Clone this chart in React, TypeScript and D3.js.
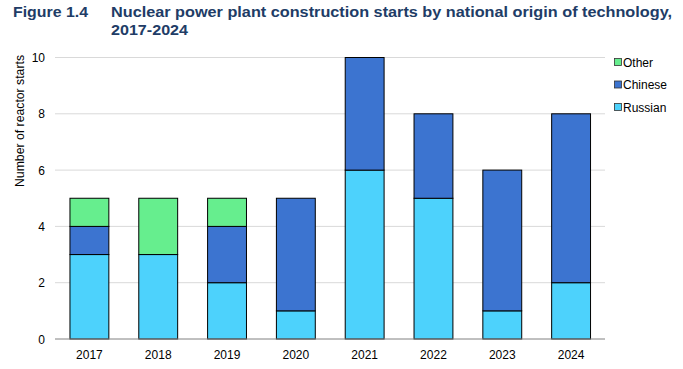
import React from "react";
import * as d3 from "d3";

const years = ["2017", "2018", "2019", "2020", "2021", "2022", "2023", "2024"];
const russian = [3, 3, 2, 1, 6, 5, 1, 2];
const chinese = [1, 0, 2, 4, 4, 3, 5, 6];
const other = [1, 2, 1, 0, 0, 0, 0, 0];
const seriesNames = ["Russian", "Chinese", "Other"];
const seriesColors = ["#4dd2fc", "#3c74d0", "#66ee8e"];
const yTicks = [0, 2, 4, 6, 8, 10];

export default function App() {
  const W = 683, H = 369;
  const x = d3.scaleBand().domain(years).range([55, 605.5]).paddingInner(0.435).paddingOuter(0.2175);
  const y = d3.scaleLinear().domain([0, 10]).range([339, 57.5]);
  const rows = years.map((yr, i) => ({ year: yr, Russian: russian[i], Chinese: chinese[i], Other: other[i] }));
  const stack = d3.stack<any>().keys(seriesNames)(rows);
  const font = "'Liberation Sans', Arial, sans-serif";
  const titleColor = "#213c66";
  return (
    <svg width={W} height={H} style={{ position: "absolute", left: 0, top: 0 }} fontFamily={font}>
      <rect width={W} height={H} fill="#fff" />
      <text x={13} y={17} fontSize={15.5} fontWeight="bold" fill={titleColor} textLength={75} lengthAdjust="spacingAndGlyphs">Figure 1.4</text>
      <text x={111} y={17} fontSize={15.5} fontWeight="bold" fill={titleColor} textLength={561} lengthAdjust="spacingAndGlyphs">Nuclear power plant construction starts by national origin of technology,</text>
      <text x={111} y={35} fontSize={15.5} fontWeight="bold" fill={titleColor} textLength={77} lengthAdjust="spacingAndGlyphs">2017-2024</text>
      {yTicks.slice(1).map(t => (
        <line key={t} x1={55} x2={605} y1={y(t)} y2={y(t)} stroke="#d9d9d9" strokeWidth={1} />
      ))}
      {yTicks.map(t => (
        <text key={t} x={45} y={y(t) + 4.5} fontSize={12} textAnchor="end" fill="#000">{t}</text>
      ))}
      <text transform={`translate(24,${121}) rotate(-90)`} fontSize={12} textAnchor="middle" fill="#000" textLength={132} lengthAdjust="spacingAndGlyphs">Number of reactor starts</text>
      {stack.map((s, si) => (
        <g key={si}>
          {s.map((d, i) => d[1] - d[0] > 0 ? (
            <rect key={i} x={x(years[i])!} width={x.bandwidth()} y={y(d[1])} height={y(d[0]) - y(d[1])}
              fill={seriesColors[si]} stroke="#000" strokeWidth={1} />
          ) : null)}
        </g>
      ))}
      <line x1={55} x2={605} y1={y(0)} y2={y(0)} stroke="#808080" strokeWidth={1} />
      {years.map(yr => (
        <text key={yr} x={x(yr)! + x.bandwidth() / 2} y={359} fontSize={12} textAnchor="middle" fill="#000">{yr}</text>
      ))}
      {["Other", "Chinese", "Russian"].map((n, i) => {
        const si = seriesNames.indexOf(n);
        const yy = 62 + i * 22.5;
        return (
          <g key={n}>
            <rect x={614.5} y={yy - 3.5} width={7} height={7} fill={seriesColors[si]} stroke="#333" strokeWidth={0.8} />
            <text x={623} y={yy + 4.5} fontSize={12} fill="#000">{n}</text>
          </g>
        );
      })}
    </svg>
  );
}
